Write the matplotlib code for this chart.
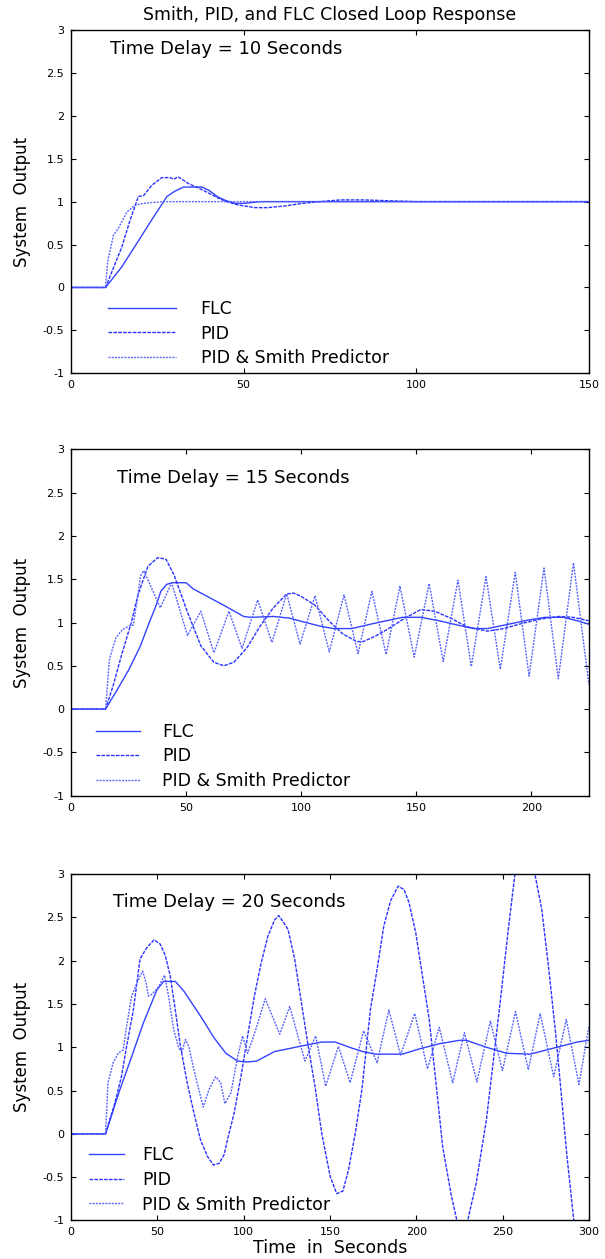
import matplotlib
matplotlib.use("Agg")
import matplotlib.pyplot as plt
from matplotlib.lines import Line2D

# ---------------- data ----------------
title = "Smith, PID, and FLC Closed Loop Response"
delay_labels = ["Time Delay = 10 Seconds", "Time Delay = 15 Seconds", "Time Delay = 20 Seconds"]
series_names = ["FLC", "PID", "PID & Smith Predictor"]
y_ticks = [-1, -0.5, 0, 0.5, 1, 1.5, 2, 2.5, 3]
y_tick_labels = ["-1", "-0.5", "0", "0.5", "1", "1.5", "2", "2.5", "3"]
x_ticks_1 = [0, 50, 100, 150]
x_ticks_2 = [0, 50, 100, 150, 200]
x_ticks_3 = [0, 50, 100, 150, 200, 250, 300]
x_max = [150, 225, 300]

# Panel 1: time delay 10 s
flc1_t = [0, 10, 14.7, 19, 23.4, 27.8, 30, 32.6, 37.9, 40, 42.7, 45, 47.6, 50, 55, 150]
flc1_v = [0, 0, 0.24, 0.51, 0.79, 1.06, 1.12, 1.17, 1.17, 1.13, 1.05, 1.01, 0.98, 0.98, 1.0, 1.0]
pid1_t = [0, 10, 12, 14.7, 17, 19.5, 21, 23.4, 26.3, 28.7, 29.7, 31, 34, 37.9, 42.7, 45, 48.5,
          53.4, 57, 62, 67, 72, 78, 85, 92, 100, 150]
pid1_v = [0, 0, 0.2, 0.47, 0.77, 1.06, 1.07, 1.19, 1.28, 1.28, 1.26, 1.29, 1.21, 1.14, 1.04, 1.0, 0.96,
          0.93, 0.93, 0.95, 0.98, 1.0, 1.02, 1.02, 1.01, 1.0, 1.0]
smith1_t = [0, 10, 10.6, 12.3, 13.7, 16.2, 18.6, 21, 23.4, 27, 150]
smith1_v = [0, 0, 0.3, 0.61, 0.69, 0.88, 0.96, 0.98, 0.99, 1.0, 1.0]

# Panel 2: time delay 15 s
flc2_t = [0, 15, 20, 25, 30, 34, 37, 39, 41.5, 44, 50, 53, 60, 67, 75, 78, 88, 95, 102, 108, 114,
          122, 130, 137, 144, 152, 160, 168, 175, 181, 190, 199, 206, 214, 220, 225]
flc2_v = [0, 0, 0.22, 0.45, 0.72, 1.0, 1.2, 1.36, 1.44, 1.46, 1.46, 1.39, 1.29, 1.19, 1.07, 1.06, 1.07,
          1.05, 1.0, 0.96, 0.93, 0.93, 0.98, 1.02, 1.06, 1.06, 1.02, 0.97, 0.93, 0.93, 0.98, 1.03,
          1.06, 1.06, 1.02, 0.98]
pid2_t = [0, 15, 18.3, 21.9, 26.2, 29, 33.4, 37.7, 41.3, 44.9, 50.6, 56.4, 62.1, 66.4, 70.7, 76.5,
          82.2, 87.9, 93.7, 96.6, 99.5, 106, 112, 118, 124, 127, 132, 138, 145, 152, 158, 165, 172,
          181, 188, 196, 204, 212, 218, 225]
pid2_v = [0, 0, 0.27, 0.62, 1.0, 1.31, 1.65, 1.75, 1.73, 1.54, 1.12, 0.73, 0.54, 0.5, 0.54, 0.71,
          0.96, 1.17, 1.33, 1.34, 1.31, 1.2, 1.02, 0.87, 0.78, 0.78, 0.84, 0.93, 1.05, 1.15, 1.13,
          1.05, 0.95, 0.9, 0.93, 0.99, 1.04, 1.07, 1.06, 1.02]
smith2_t = [0, 15, 16.7, 19.6, 22.4, 25.3, 27, 29, 30.2, 31.6, 38.8, 43.7, 50.6, 56.4, 62.1, 68.6,
            74.3, 81.1, 87.3, 93.7, 99.5, 106, 112.2, 118.6, 124.7, 130.7, 136.9, 142.9, 149.1,
            155.6, 161.7, 168.1, 173.9, 180.3, 186.5, 193, 199, 205.5, 211.7, 218.3, 225]
smith2_v = [0, 0, 0.58, 0.83, 0.92, 0.96, 0.97, 1.3, 1.54, 1.6, 1.17, 1.46, 0.85, 1.13, 0.65, 1.13,
            0.7, 1.26, 0.77, 1.33, 0.75, 1.31, 0.66, 1.32, 0.64, 1.36, 0.63, 1.42, 0.6, 1.45, 0.55,
            1.49, 0.49, 1.53, 0.46, 1.58, 0.38, 1.63, 0.35, 1.69, 0.28]

# Panel 3: time delay 20 s
flc3_t = [0, 20, 28.3, 35.1, 41.9, 49.7, 53.6, 60.4, 65.3, 75, 82.8, 89.7, 96.5, 102.3, 107.5,
          117.9, 127.7, 137.4, 145.2, 153, 162.7, 169, 176.3, 191.9, 201.6, 213.3, 225, 229,
          240.6, 252.3, 265.9, 279.6, 293.2, 300]
flc3_v = [0, 0, 0.51, 0.89, 1.28, 1.66, 1.76, 1.76, 1.65, 1.36, 1.11, 0.93, 0.84, 0.83, 0.84,
          0.95, 0.99, 1.03, 1.06, 1.06, 0.99, 0.95, 0.92, 0.92, 0.98, 1.04, 1.08, 1.08,
          1.0, 0.93, 0.92, 0.99, 1.06, 1.08]
pid3_t = [0, 20, 25.3, 29.2, 32.2, 36.1, 40, 43.9, 48.1, 51.7, 54.6, 57.5, 60.4, 63.4, 67.3, 71.2,
          75, 79, 82.5, 85.8, 88.7, 90.6, 94.5, 98.4, 102.3, 106.2, 110.1, 114, 117.9, 120.3,
          122.8, 125.7, 129.6, 133.5, 137.4, 141.3, 145.2, 150.1, 153.9, 157.5, 160.7, 164.6,
          168.5, 173.4, 177.3, 181.2, 185.1, 189.5, 192.9, 195.8, 199.7, 203.6, 207.5, 211.4,
          215.3, 220.1, 223.4, 226.7, 229.9, 234.7, 240.6, 244.5, 249.4, 253.3, 257.1, 260,
          263, 266, 268.8, 272.7, 276.6, 280.5, 283.4, 287.3, 291.2, 295]
pid3_v = [0, 0, 0.35, 0.66, 1.01, 1.43, 2.02, 2.15, 2.24, 2.19, 2.06, 1.82, 1.43, 1.01, 0.59, 0.24,
          -0.07, -0.26, -0.36, -0.34, -0.24, -0.07, 0.24, 0.66, 1.13, 1.59, 1.97, 2.28, 2.47, 2.52,
          2.45, 2.36, 2.01, 1.51, 1.01, 0.55, 0.01, -0.49, -0.69, -0.66, -0.42, 0.0,
          0.51, 1.43, 1.9, 2.4, 2.69, 2.86, 2.82, 2.67, 2.32, 1.82, 1.32, 0.59,
          -0.15, -0.69, -0.99, -1.12, -0.99, -0.57, 0.16, 0.82, 1.66, 2.36, 2.99, 3.18,
          3.25, 3.18, 2.99, 2.59, 1.93, 1.2, 0.59, -0.26, -0.99, -1.5]
smith3_t = [0, 20, 21.4, 24.4, 27.3, 30.2, 32.2, 35.1, 39, 41.5, 43.5, 44.8, 46.8, 50.7, 54.2,
            56.5, 59.5, 62.4, 64.3, 66.3, 68.2, 72.1, 76.6, 79.9, 83.8, 86.7, 89.1, 92.6, 96.5,
            99.4, 102.3, 107, 112.5, 120.9, 126.7, 135.5, 141.7, 147.5, 154.9, 161.7, 169.5,
            177.3, 184.1, 190.9, 199.1, 206.5, 213.3, 221.1, 227.9, 235.1, 242.9, 249.9, 257.5,
            264.9, 271.8, 279.6, 286.9, 294.2, 300]
smith3_v = [0, 0, 0.59, 0.82, 0.93, 0.97, 1.24, 1.59, 1.78, 1.88, 1.74, 1.59, 1.61, 1.70, 1.83,
            1.59, 1.2, 0.99, 0.95, 1.09, 1.01, 0.66, 0.31, 0.51, 0.66, 0.59, 0.35, 0.47, 0.89,
            1.13, 0.93, 1.2, 1.56, 1.15, 1.47, 0.84, 1.13, 0.55, 1.01, 0.59, 1.19,
            0.82, 1.43, 0.91, 1.39, 0.75, 1.23, 0.59, 1.17, 0.6, 1.3, 0.73, 1.41,
            0.74, 1.39, 0.66, 1.32, 0.57, 1.24]

panels = [
    (flc1_t, flc1_v, pid1_t, pid1_v, smith1_t, smith1_v, x_ticks_1),
    (flc2_t, flc2_v, pid2_t, pid2_v, smith2_t, smith2_v, x_ticks_2),
    (flc3_t, flc3_v, pid3_t, pid3_v, smith3_t, smith3_v, x_ticks_3),
]

# ---------------- style ----------------
FONT = "DejaVu Sans"
plt.rcParams["font.family"] = FONT
c_flc = "#3343ff"
c_pid = "#2a33ff"
c_smith = "#5561ff"
ls_flc = "-"
ls_pid = (0, (2.6, 0.9))
ls_smith = (0, (1.4, 0.9))
lw = 1.0

fig = plt.figure(figsize=(6.05, 12.59), dpi=100)
axes_rects = [
    [0.1174, 0.7035, 0.856, 0.2727],
    [0.1174, 0.3681, 0.856, 0.2749],
    [0.1174, 0.0306, 0.856, 0.2752],
]
annot_pos = [(0.076, 0.9455), (0.089, 0.9185), (0.081, 0.92)]
legend_anchor = [(0.071, 0.018), (0.048, 0.016), (0.035, 0.02)]
handle_len = [3.9, 2.55, 2.0]
handle_pad = [1.45, 1.25, 1.05]

for i, (ft, fv, pt, pv, st, sv, xt) in enumerate(panels):
    ax = fig.add_axes(axes_rects[i])
    ax.plot(ft, fv, color=c_flc, linestyle=ls_flc, linewidth=lw)
    ax.plot(pt, pv, color=c_pid, linestyle=ls_pid, linewidth=lw)
    ax.plot(st, sv, color=c_smith, linestyle=ls_smith, linewidth=lw)
    ax.set_xlim(0, x_max[i])
    ax.set_ylim(-1, 3)
    ax.set_xticks(xt)
    ax.set_xticklabels([str(v) for v in xt])
    ax.set_yticks(y_ticks)
    ax.set_yticklabels(y_tick_labels)
    ax.tick_params(direction="in", top=True, right=True, length=3.5, width=0.8,
                   labelsize=8, pad=5, colors="black")
    for sp in ax.spines.values():
        sp.set_linewidth(1.0)
        sp.set_color("black")
    ax.set_ylabel("System  Output", fontsize=12, labelpad=8)
    ax.text(annot_pos[i][0], annot_pos[i][1], delay_labels[i], transform=ax.transAxes,
            fontsize=13, ha="left", va="center")
    handles = [Line2D([], [], color=c_flc, linestyle=ls_flc, linewidth=lw),
               Line2D([], [], color=c_pid, linestyle=ls_pid, linewidth=lw),
               Line2D([], [], color=c_smith, linestyle=ls_smith, linewidth=lw)]
    ax.legend(handles, series_names, loc="lower left", bbox_to_anchor=legend_anchor[i],
              borderaxespad=0, borderpad=0, frameon=False, fontsize=12.5,
              handlelength=handle_len[i], handletextpad=handle_pad[i], labelspacing=0.38)
    if i == 0:
        ax.set_title(title, fontsize=12.5, pad=7)
    if i == 2:
        ax.set_xlabel("Time  in  Seconds", fontsize=12.5, labelpad=1)

fig.savefig("out.png", dpi=100)
